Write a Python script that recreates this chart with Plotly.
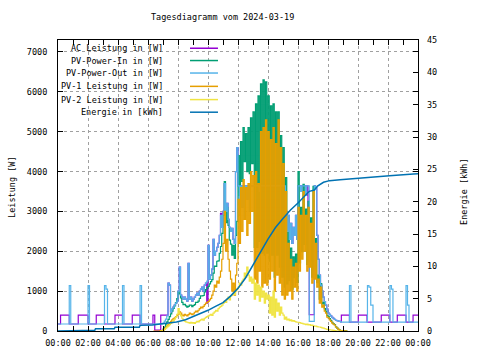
import plotly.graph_objects as go

# ---------------- data ----------------
tick_hours = [0, 2, 4, 6, 8, 10, 12, 14, 16, 18, 20, 22, 24]
tick_labels = ["00:00", "02:00", "04:00", "06:00", "08:00", "10:00", "12:00",
               "14:00", "16:00", "18:00", "20:00", "22:00", "00:00"]
minor_hours = [1, 3, 5, 7, 9, 11, 13, 15, 17, 19, 21, 23]
y1_ticks = [0, 1000, 2000, 3000, 4000, 5000, 6000, 7000]
y2_ticks = [0, 5, 10, 15, 20, 25, 30, 35, 40, 45]

# daytime samples: every 5 minutes from 07:00 to 18:50
day_start_h = 7.0
day_step_h = 5 / 60

# AC Leistung [W]
ac_am_t = [0.0, 0.17, 0.75, 1.35, 2.0, 2.55, 3.1, 3.8, 4.3, 4.95, 5.47, 6.33, 6.45, 6.85]
ac_am_v = [175, 400, 175, 400, 175, 400, 175, 400, 175, 400, 175, 400, 20, 400]
ac_day = [400, 400, 400, 400, 1200, 1150, 480, 550, 600, 650, 700, 750,
          1000, 1600, 900, 850, 800, 850, 800, 750, 1700, 800, 850, 750,
          800, 850, 900, 950, 900, 1000, 1050, 1100, 1000, 1150, 1200, 700,
          2150, 1300, 1400, 1550, 2300, 1900, 2000, 2100, 2200, 2400, 2950, 2600,
          3000, 3700, 3000, 3200, 2800, 2600, 2500, 2575, 2300, 2200, 4000, 4600,
          3640, 3640, 3640, 3640, 3640, 3640, 3640, 3640, 3640, 3640, 3640, 3640,
          3640, 3640, 3640, 3640, 3640, 3640, 3640, 3640, 3640, 3640, 3640, 3640,
          3640, 3640, 3640, 3640, 3640, 3640, 3640, 3640, 3640, 3640, 3640, 3640,
          3640, 3640, 3000, 2500, 2900, 2300, 2700, 2200, 2600, 2400, 2900, 2300,
          3640, 3640, 3500, 3640, 3640, 3640, 3400, 3640, 1780, 408, 408, 408,
          408, 3640, 3600, 2400, 1800, 1400, 1150, 1000, 850, 740, 650, 550,
          450, 420, 380, 340, 320, 290, 270, 260, 250, 240, 230]
ac_pm_t = [18.89, 19.43, 20.02, 20.6, 21.55, 22.12, 22.62, 23.2, 23.67, 24.0]
ac_pm_v = [400, 225, 400, 225, 400, 225, 400, 225, 400, 400]

# PV-Power-In [W]
pvin_am_t = [6.9]
pvin_am_v = [0]
pvin_day = [50, 100, 170, 230, 290, 360, 430, 500, 570, 630, 710, 810,
            980, 930, 830, 720, 660, 670, 630, 600, 620, 650, 650, 610,
            640, 660, 720, 720, 750, 820, 880, 880, 890, 980, 1040, 1080,
            1120, 1180, 1240, 1290, 1450, 1630, 1620, 1750, 1760, 1950, 2120, 2450,
            2900, 3750, 2720, 3100, 2650, 2280, 2180, 1900, 2150, 1820, 2400, 2750,
            4400, 3400, 4750, 3750, 5100, 4250, 4950, 4000, 5100, 3950, 5350, 4200,
            5500, 2100, 5700, 2100, 5900, 2250, 6200, 1950, 6300, 1900, 6250, 1950,
            5900, 1750, 5650, 1900, 5700, 1350, 5500, 1900, 5500, 1600, 4900, 1350,
            4600, 1100, 3850, 1180, 2500, 1260, 2080, 1050, 1860, 1340, 1930, 1220,
            4000, 1710, 3100, 1990, 3680, 2170, 3060, 1670, 3250, 1760, 2840, 1350,
            3630, 1420, 2320, 1210, 1400, 800, 1190, 680, 720, 560, 500, 390,
            365, 310, 265, 220, 185, 160, 105, 70, 40, 20, 10]
pvin_pm_t = [19.0, 19.25]
pvin_pm_v = [5, 0]

# PV-Power-Out [W]
pvout_am_t = [0.0, 0.75, 0.85, 2.0, 2.1, 3.1, 3.2, 3.3, 4.3, 4.4, 5.47, 5.57]
pvout_am_v = [175, 1140, 175, 1140, 175, 1140, 1050, 175, 1140, 175, 1140, 175]
pvout_day = [200, 250, 300, 380, 1200, 1150, 480, 550, 600, 650, 700, 750,
             1000, 1600, 900, 850, 800, 850, 800, 750, 1700, 800, 850, 750,
             800, 850, 900, 950, 900, 1000, 1050, 1100, 1000, 1150, 1200, 1250,
             2150, 1300, 1400, 1550, 2300, 1900, 2000, 2100, 2200, 2400, 2900, 2600,
             3000, 3700, 3000, 3200, 2800, 2600, 2500, 2575, 2300, 2200, 4000, 4600,
             3640, 2900, 3640, 3100, 3640, 2800, 3640, 3300, 3640, 3000, 3640, 3640,
             3640, 3640, 3640, 3640, 3640, 3500, 3640, 3640, 3640, 3640, 3640, 3640,
             3640, 3640, 3640, 3640, 3640, 3640, 3640, 3640, 3640, 3640, 3640, 3640,
             3640, 3640, 3000, 2500, 2900, 2300, 2700, 2200, 2600, 2400, 2900, 2300,
             3640, 3640, 3500, 3640, 3640, 3640, 3400, 3640, 3640, 240, 240, 240,
             240, 3640, 3600, 2400, 1800, 1400, 1150, 1000, 850, 740, 650, 550,
             450, 420, 380, 340, 320, 290, 270, 260, 250, 240, 230]
pvout_pm_t = [18.89, 19.43, 19.53, 20.63, 20.73, 20.85, 21.0, 22.13, 22.23, 22.33,
              23.2, 23.3, 23.4, 24.0]
pvout_pm_v = [225, 1140, 225, 1140, 1100, 650, 225, 1140, 1050, 225,
              1140, 650, 225, 225]

# PV-1 Leistung [W]
pv1_am_t = [6.35, 6.8]
pv1_am_v = [0, 10]
pv1_day = [30, 60, 100, 130, 160, 200, 240, 280, 310, 330, 360, 390,
           420, 480, 450, 400, 380, 420, 400, 380, 410, 450, 430, 410,
           430, 470, 500, 480, 520, 560, 600, 580, 620, 660, 700, 720,
           740, 780, 820, 900, 1000, 1150, 1100, 1250, 1200, 1350, 1500, 1800,
           2200, 3000, 2000, 2300, 1800, 1500, 1300, 1000, 1200, 900, 1400, 1700,
           3300, 2200, 3600, 2500, 3800, 2800, 3600, 2400, 3700, 2700, 4000, 3000,
           3900, 1300, 4000, 1200, 3700, 1500, 5000, 1100, 5100, 1200, 5300, 1150,
           5000, 1300, 4800, 1500, 5100, 1000, 4700, 1400, 5300, 1200, 4600, 900,
           4200, 800, 3500, 900, 2200, 1000, 1800, 800, 1600, 1100, 1700, 1000,
           3100, 1500, 2900, 1800, 3500, 2000, 2900, 1500, 3100, 1600, 2700, 1200,
           3500, 1300, 2200, 1100, 1300, 700, 1100, 600, 650, 500, 450, 350,
           330, 280, 240, 200, 170, 150, 100, 70, 40, 20, 10]
pv1_pm_t = [19.0, 19.25]
pv1_pm_v = [5, 0]

# PV-2 Leistung [W]
pv2_am_t = [6.8]
pv2_am_v = [0]
pv2_day = [20, 40, 70, 100, 130, 160, 190, 220, 260, 300, 350, 420,
           560, 450, 380, 320, 280, 250, 230, 220, 210, 200, 220, 200,
           210, 190, 220, 240, 230, 260, 280, 300, 270, 320, 340, 360,
           380, 400, 420, 390, 450, 480, 520, 500, 560, 600, 620, 650,
           700, 750, 720, 800, 850, 780, 880, 900, 950, 920, 1000, 1050,
           1100, 1200, 1150, 1250, 1300, 1450, 1350, 1600, 1400, 1250, 1350, 1200,
           1300, 800, 1200, 900, 1150, 750, 1100, 850, 1000, 700, 950, 800,
           900, 450, 850, 400, 1000, 350, 800, 500, 700, 400, 600, 450,
           400, 300, 350, 280, 300, 260, 280, 250, 260, 240, 230, 220,
           220, 210, 200, 190, 180, 170, 160, 170, 150, 160, 140, 150,
           130, 120, 120, 110, 100, 100, 90, 80, 70, 60, 50, 40,
           35, 30, 25, 20, 15, 10, 5, 0, 0, 0, 0]
pv2_pm_t = [19.0]
pv2_pm_v = [0]

# Energie [kWh]
energy_t = [0.0, 0.75, 0.8, 2.45, 2.5, 3.75, 3.8, 5.42, 5.47, 6.3, 6.8, 7.5, 7.9,
            8.5, 9.0, 9.5, 10.0, 10.5, 11.0, 11.5, 12.0, 12.5, 13.0, 13.5, 14.0,
            14.5, 15.0, 15.5, 16.0, 16.5, 16.75, 17.1, 17.3, 17.7, 18.1, 18.8,
            20.1, 21.0, 22.1, 23.7, 24.0]
energy_v = [0.0, 0.0, 0.1, 0.1, 0.35, 0.35, 0.57, 0.57, 0.87, 0.92, 1.07, 1.2, 1.38,
            1.75, 2.2, 2.7, 3.2, 3.8, 4.4, 5.4, 6.6, 8.2, 10.1, 12.2, 14.2,
            16.0, 17.4, 18.7, 19.8, 21.0, 21.6, 21.8, 22.4, 23.0, 23.25, 23.4,
            23.6, 23.8, 24.0, 24.27, 24.3]

legend_labels = ["AC Leistung in [W]", "PV-Power-In in [W]", "PV-Power-Out in [W]",
                 "PV-1 Leistung in [W]", "PV-2 Leistung in [W]", "Energie in [kWh]"]
colors = ["#9400d3", "#009e73", "#56b4e9", "#e69f00", "#f0e442", "#0072b2"]


def day_times(n):
    return [day_start_h + i * day_step_h for i in range(n)]


series = [
    (ac_am_t, ac_am_v, ac_day, ac_pm_t, ac_pm_v),
    (pvin_am_t, pvin_am_v, pvin_day, pvin_pm_t, pvin_pm_v),
    (pvout_am_t, pvout_am_v, pvout_day, pvout_pm_t, pvout_pm_v),
    (pv1_am_t, pv1_am_v, pv1_day, pv1_pm_t, pv1_pm_v),
    (pv2_am_t, pv2_am_v, pv2_day, pv2_pm_t, pv2_pm_v),
]

fig = go.Figure()
for (am_t, am_v, day, pm_t, pm_v), name, col in zip(series, legend_labels[:5], colors[:5]):
    xs = am_t + day_times(len(day)) + pm_t
    ys = am_v + day + pm_v
    fig.add_trace(go.Scatter(x=xs, y=ys, mode="lines", name=name,
                             line=dict(color=col, width=1.2, shape="hv"),
                             yaxis="y", hoverinfo="skip"))

fig.add_trace(go.Scatter(x=energy_t, y=energy_v, mode="lines", name=legend_labels[5],
                         line=dict(color=colors[5], width=1.5), yaxis="y2",
                         hoverinfo="skip"))

FONT = "DejaVu Sans Mono"
grid = dict(showgrid=True, gridcolor="#a0a0a0", griddash="3px,3px", gridwidth=1)

fig.update_layout(
    width=480, height=360,
    margin=dict(l=58, r=62, t=40, b=27),
    paper_bgcolor="white", plot_bgcolor="white",
    showlegend=False,
    hovermode=False,
    font=dict(family=FONT, size=8.5, color="black"),
    xaxis=dict(range=[0, 24], tickmode="array", tickvals=tick_hours, ticktext=tick_labels,
               ticks="inside", ticklen=5, tickcolor="black", showline=True,
               linecolor="black", linewidth=1, mirror="allticks", zeroline=False,
               ticklabelstandoff=4,
               minor=dict(tickvals=minor_hours, ticks="inside", ticklen=3,
                          tickcolor="black", showgrid=False),
               **grid),
    yaxis=dict(range=[0, 7300], tickmode="array", tickvals=y1_ticks,
               ticks="inside", ticklen=5, tickcolor="black", showline=True,
               linecolor="black", linewidth=1, mirror="allticks", zeroline=False,
               ticklabelstandoff=8, **grid),
    yaxis2=dict(range=[0, 45], overlaying="y", side="right", tickmode="array",
                tickvals=y2_ticks, ticks="inside", ticklen=5, tickcolor="black",
                showgrid=False, zeroline=False, showline=False,
                ticklabelstandoff=8),
)

# opaque key box (hides the grid behind the key, as in the original)
fig.add_shape(type="rect", xref="paper", yref="paper", x0=0.003, x1=0.455,
              y0=0.727, y1=0.997, layer="between",
              line=dict(width=0), fillcolor="white")

# title and axis titles
fig.add_annotation(text="Tagesdiagramm vom 2024-03-19", xref="paper", yref="paper",
                   x=0.458, y=1.078, xanchor="center", yanchor="middle",
                   showarrow=False, font=dict(family=FONT, size=8.5))
fig.add_annotation(text="Leistung [W]", xref="paper", yref="paper",
                   x=-0.128, y=0.495, textangle=-90, xanchor="center", yanchor="middle",
                   showarrow=False, font=dict(family=FONT, size=8.5))
fig.add_annotation(text="Energie [kWh]", xref="paper", yref="paper",
                   x=1.128, y=0.478, textangle=-90, xanchor="center", yanchor="middle",
                   showarrow=False, font=dict(family=FONT, size=8.5))

# key (inside top-left, text right-aligned, sample line to the right)
key_rows_y = [0.9717, 0.9294, 0.8865, 0.8407, 0.7952, 0.7519]
for lab, col, yy in zip(legend_labels, colors, key_rows_y):
    fig.add_annotation(text=lab, xref="paper", yref="paper", x=0.2972, y=yy,
                       xanchor="right", yanchor="middle", showarrow=False,
                       font=dict(family=FONT, size=8.5))
    fig.add_shape(type="line", xref="paper", yref="paper", x0=0.3667, x1=0.4444,
                  y0=yy, y1=yy, line=dict(color=col, width=1.5))

fig.write_html("out.html", config={"displayModeBar": False},
               post_script="document.body.style.margin='0';")
